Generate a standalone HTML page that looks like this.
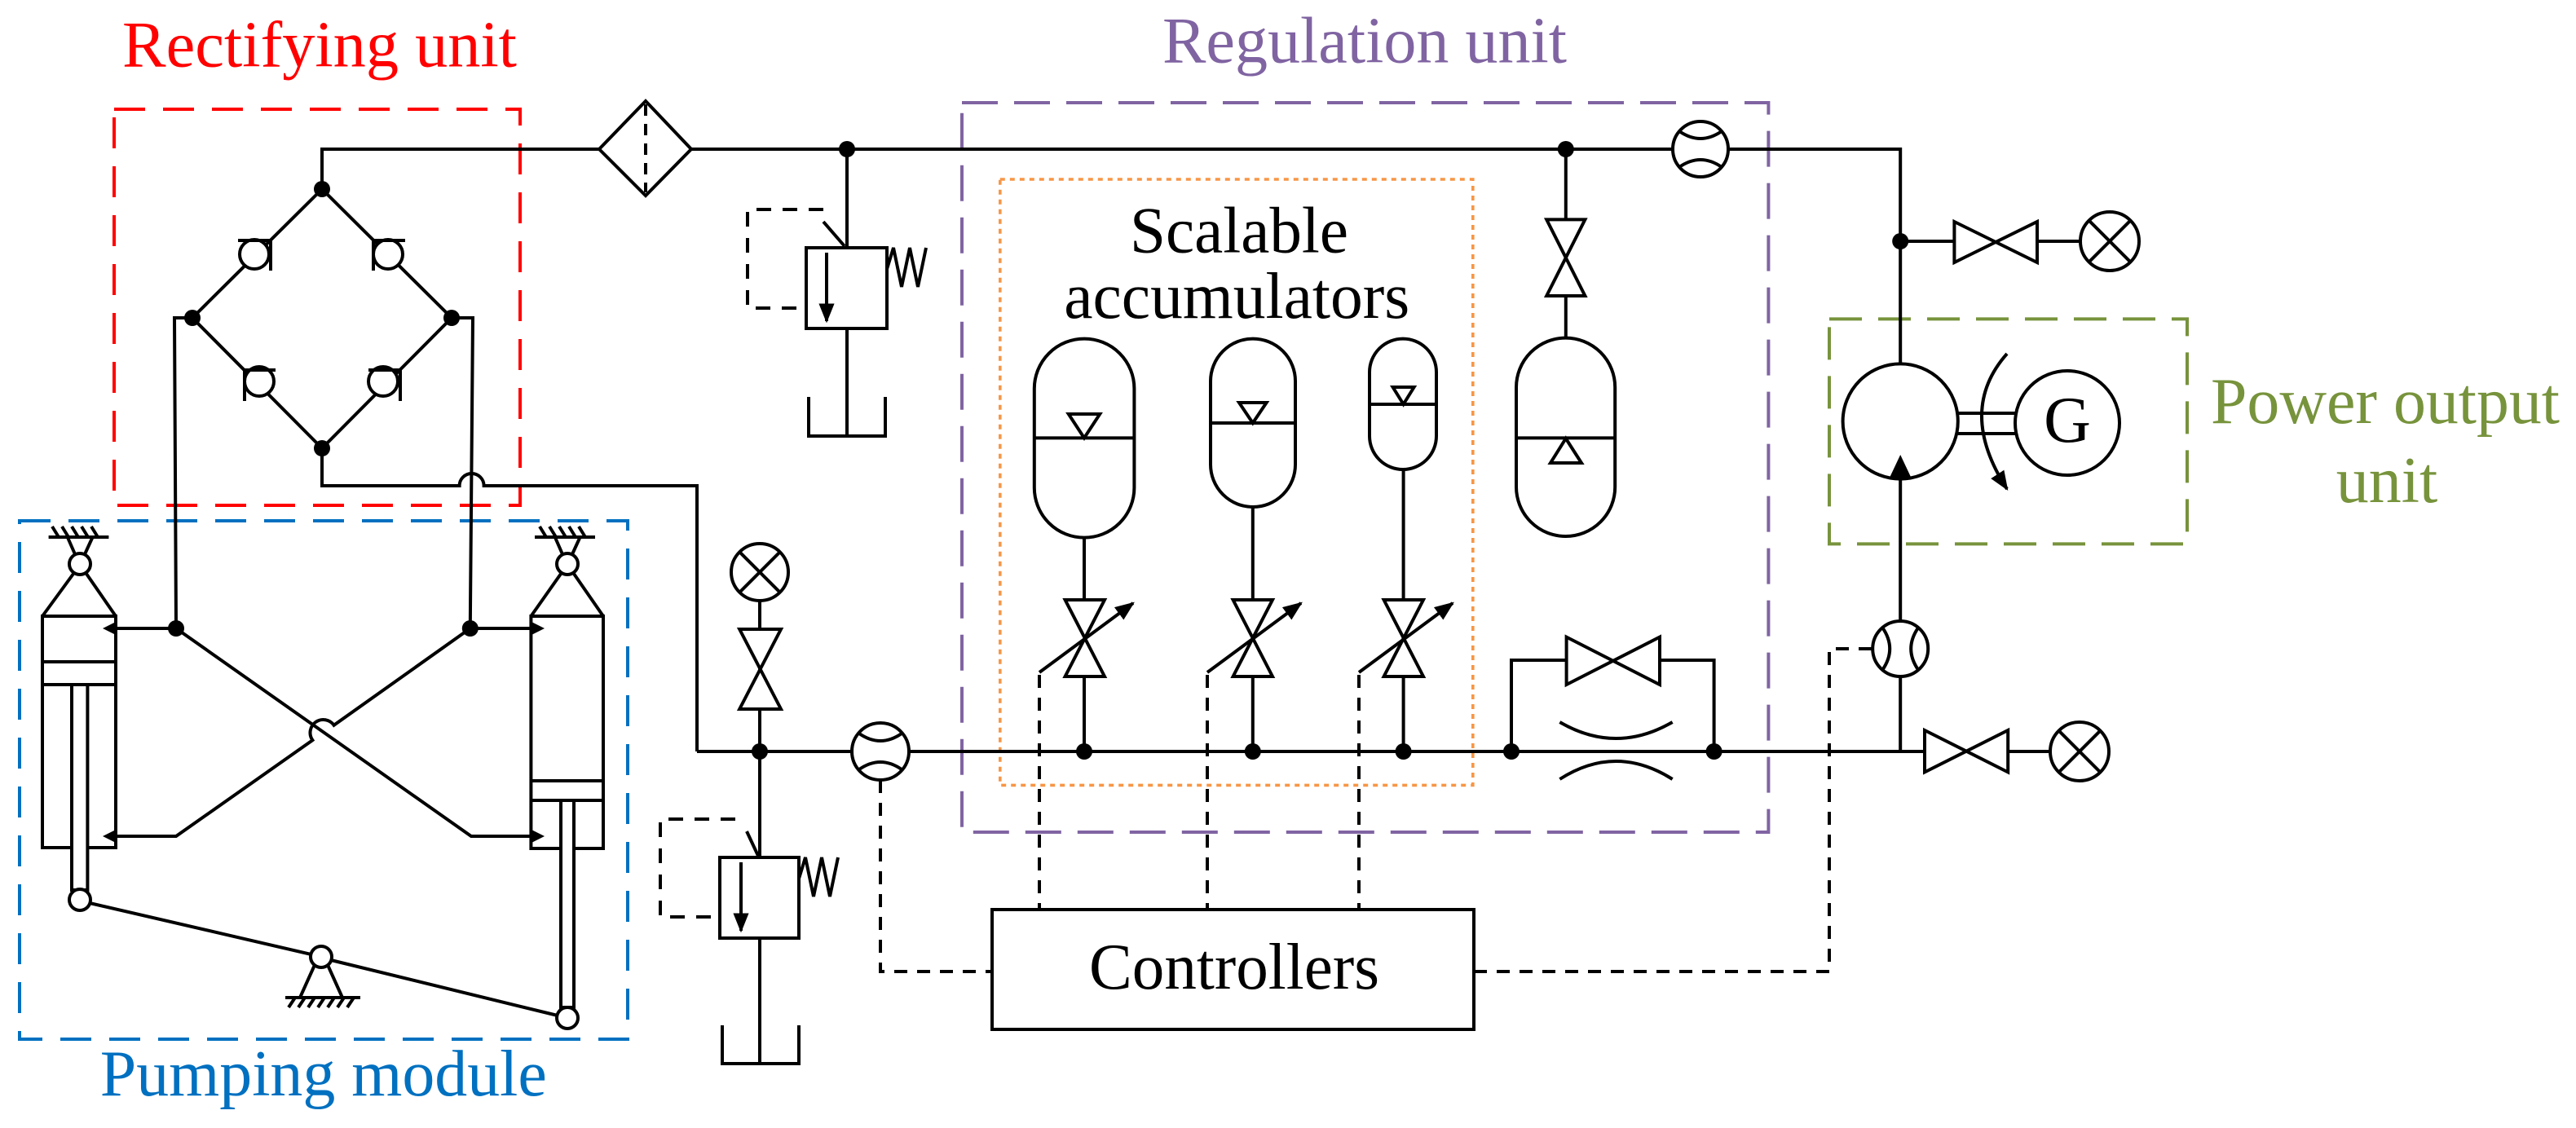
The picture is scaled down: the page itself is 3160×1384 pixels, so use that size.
<!DOCTYPE html>
<html><head><meta charset="utf-8"><style>
html,body{margin:0;padding:0;background:#fff;}
svg{display:block;}
text{font-family:"Liberation Serif",serif;}
</style></head><body>
<svg width="3160" height="1384" viewBox="0 0 1580 692" xmlns="http://www.w3.org/2000/svg">
<defs>
<marker id="ah2" viewBox="0 0 10 10" refX="9" refY="5" markerWidth="12" markerHeight="12" orient="auto" markerUnits="userSpaceOnUse">
<path d="M0,1 L10,5 L0,9 Z" fill="#000"/></marker>
</defs>
<rect width="1580" height="692" fill="#fff"/>

<g fill="none" stroke-width="2">
<rect x="70" y="67" width="249" height="243" stroke="#ff0000" stroke-dasharray="19,11"/>
<rect x="12" y="319.5" width="373" height="318" stroke="#0070c0" stroke-dasharray="19,11"/>
<rect x="590" y="63" width="494.7" height="447.5" stroke="#8064a2" stroke-dasharray="22,10"/>
<rect x="613.4" y="110" width="290" height="371.7" stroke="#f79646" stroke-dasharray="3,3" stroke-width="1.8"/>
<rect x="1122" y="195.7" width="219.5" height="138" stroke="#77933c" stroke-dasharray="20,10"/>
</g>

<text x="75" y="40.8" font-size="40" fill="#ff0000" textLength="242" lengthAdjust="spacingAndGlyphs">Rectifying unit</text>
<text x="713" y="38.3" font-size="40" fill="#8064a2" textLength="248" lengthAdjust="spacingAndGlyphs">Regulation unit</text>
<text x="61.4" y="672" font-size="40" fill="#0070c0" textLength="274" lengthAdjust="spacingAndGlyphs">Pumping module</text>
<text x="1356" y="259.5" font-size="40" fill="#77933c" textLength="214" lengthAdjust="spacingAndGlyphs">Power output</text>
<text x="1464" y="308" font-size="40" fill="#77933c" text-anchor="middle">unit</text>
<text x="693" y="154.7" font-size="40" fill="#000" textLength="134" lengthAdjust="spacingAndGlyphs">Scalable</text>
<text x="652.6" y="195" font-size="40" fill="#000" textLength="212" lengthAdjust="spacingAndGlyphs">accumulators</text>

<g stroke="#000" stroke-width="2" fill="none" stroke-linejoin="miter">
<path d="M197.5,116 V91.5 H367.5 M424,91.5 H1165.6 V223"/>
<path d="M367.5,91.5 L396,62 L424,91.5 L396,120 Z" fill="#fff"/>
<path d="M396,64 V118" stroke-dasharray="7,5"/>
<path d="M197.5,116 L118,195 L197.5,275 L277,195 Z"/>
<path d="M118,195 H107 L108,385.5"/>
<path d="M277,195 H290 L288.4,385.5"/>
<path d="M197.5,275 V298 H281.8 A7.5,7.5 0 0 1 296.8,298 H427.5 V461"/>
<g fill="#fff">
<circle cx="156" cy="156" r="9"/><circle cx="238" cy="156" r="9"/>
<circle cx="159" cy="234" r="9"/><circle cx="235" cy="234" r="9"/>
</g>
<path d="M146,147.5 H166 V166 M229,166 V147.5 H248.5 M150,246 V227 H169 M226,227 H245.5 V246"/>

<rect x="26" y="378" width="45" height="142" fill="#fff"/>
<path d="M26,406 H71 M26,420 H71"/>
<rect x="44" y="420" width="9.7" height="126" fill="#fff"/>
<circle cx="49" cy="552" r="6.5" fill="#fff"/>
<rect x="325.7" y="378" width="44.3" height="142.5" fill="#fff"/>
<path d="M325.7,479 H370 M325.7,491 H370"/>
<rect x="344" y="491" width="8" height="127" fill="#fff"/>
<circle cx="348" cy="624.5" r="6.5" fill="#fff"/>
<path d="M26,378 L45,352 M71,378 L53,352 M41.4,329.5 L46,340 M56.8,329.5 L52,340 M29.8,329.5 H66.7"/>
<path d="M36,329.5 L32,323 M42,329.5 L38,323 M48,329.5 L44,323 M54,329.5 L50,323 M60,329.5 L56,323"/>
<circle cx="49" cy="346" r="6.5" fill="#fff"/>
<path d="M325.7,378 L344,352 M370,378 L352,352 M340.4,329.5 L345,340 M355.8,329.5 L351,340 M328,329.5 H365"/>
<path d="M335,329.5 L331,323 M341,329.5 L337,323 M347,329.5 L343,323 M353,329.5 L349,323 M359,329.5 L355,323"/>
<circle cx="348" cy="346" r="6.5" fill="#fff"/>
<path d="M55,554 L191,585.5 M203,589 L342,623"/>
<path d="M193,592 L184,612 M201,592 L210,612 M175,612 H221"/>
<path d="M181,612 L177,618 M187,612 L183,618 M193,612 L189,618 M199,612 L195,618 M205,612 L201,618 M211,612 L207,618 M217,612 L213,618"/>
<circle cx="197" cy="587" r="6.5" fill="#fff"/>
<path d="M71,385.5 H108 L289,513 H325.7"/>
<path d="M325.7,385.5 H288.4 L204.8,444.9 A8,8 0 0 0 191.7,454.1 L108,513 H71"/>
</g>
<g fill="#000">
<path d="M63,385.5 L71,381.5 L71,389.5 Z"/><path d="M63,513 L71,509 L71,517 Z"/>
<path d="M334,385.5 L326,381.5 L326,389.5 Z"/><path d="M334,513 L326,509 L326,517 Z"/>
</g>

<g stroke="#000" stroke-width="2" fill="none">
<path d="M519.5,91.5 V152 M519.5,201.5 V267.5 M496,243.5 V267.5 H543 V243.5"/>
<rect x="494.5" y="152" width="49.5" height="49.5" fill="#fff"/>
<path d="M507,155 V197" marker-end="url(#ah2)"/>
<path d="M544,165 L548,152 L553,176 L558,152 L563,176 L568,152"/>
<path d="M505,128.5 H458.5 V189 H494.5" stroke-dasharray="9,7"/>
<path d="M505,136 L518,151"/>
<path d="M466,368.5 V526 M466,575.5 V652.5 M443,629 V652.5 H490 V629"/>
<circle cx="466" cy="351" r="17.5" fill="#fff"/>
<path d="M453.6,338.6 L478.4,363.4 M478.4,338.6 L453.6,363.4"/>
<path d="M453.6,386 H479 L453.6,435 H479 Z" fill="#fff"/>
<rect x="441.5" y="526" width="48.5" height="49.5" fill="#fff"/>
<path d="M454.5,529 V571" marker-end="url(#ah2)"/>
<path d="M490,539 L494,526 L499,550 L504,526 L509,550 L514,526"/>
<path d="M451,502.5 H405 V562.5 H441.5" stroke-dasharray="9,7"/>
<path d="M458,510 L465,525"/>
<path d="M427.5,461 H1180.5 M1231.6,461 H1257.5"/>
<circle cx="540" cy="461" r="17.5" fill="#fff"/>
<path d="M527,450 Q540,459 553,450 M527,472 Q540,463 553,472"/>
<circle cx="1043" cy="91.5" r="17" fill="#fff"/>
<path d="M1030,80.5 Q1043,89.5 1056,80.5 M1030,102.5 Q1043,93.5 1056,102.5"/>

<rect x="634.4" y="207.8" width="61.3" height="122" rx="30.6" ry="30.6" fill="#fff"/>
<path d="M634.4,268.7 H695.7 M655.4,254 H674.6 L665,268.7 Z M665,329.8 V368 M665,415 V461"/>
<rect x="742.5" y="207.8" width="52" height="103.2" rx="26" ry="26" fill="#fff"/>
<path d="M742.5,259.5 H794.5 M760,247 H776.8 L768.4,259.5 Z M768.4,311 V368 M768.4,415 V461"/>
<rect x="840" y="207.8" width="41" height="80.2" rx="20.5" ry="20.5" fill="#fff"/>
<path d="M840,248 H881 M854.3,237.5 H867.3 L860.8,248 Z M860.8,288 V368 M860.8,415 V461"/>
<rect x="930" y="207.3" width="60.6" height="121.7" rx="30.3" ry="30.3" fill="#fff"/>
<path d="M930,268.7 H990.6 M951,284 H970 L960.4,269 Z M960.4,91.5 V134.7 M960.4,181.5 V207.3"/>
<path d="M948.6,134.7 H972.2 L948.6,181.5 H972.2 Z" fill="#fff"/>
<path d="M653.3,368 H677.5 L653.3,415 H677.5 Z" fill="#fff"/>
<path d="M756.3,368 H780.5 L756.3,415 H780.5 Z" fill="#fff"/>
<path d="M848.8,368 H873 L848.8,415 H873 Z" fill="#fff"/>
<path d="M637.5,412.5 L695,370" marker-end="url(#ah2)"/>
<path d="M740.5,412.5 L798,370" marker-end="url(#ah2)"/>
<path d="M833.5,412.5 L891,370" marker-end="url(#ah2)"/>
<path d="M927,461 V405 H960.8 M1018,405 H1051.3 V461"/>
<path d="M960.8,390.8 L1018,420 V390.8 L960.8,420 Z" fill="#fff"/>
<path d="M956.7,443 Q991,463 1025.8,443 M956.7,478 Q991,456 1025.8,478"/>

<path d="M1165.6,148 H1198.7 M1249.5,148 H1276"/>
<path d="M1198.7,136 L1249.5,161 V136 L1198.7,161 Z" fill="#fff"/>
<circle cx="1294" cy="148" r="18" fill="#fff"/>
<path d="M1281.3,135.3 L1306.7,160.7 M1306.7,135.3 L1281.3,160.7"/>
<circle cx="1165.6" cy="258.5" r="35.3" fill="#fff"/>
<path d="M1165.6,293.8 V381 M1165.6,415 V461"/>
<path d="M1200.5,253.5 H1236 M1200.5,266 H1236"/>
<circle cx="1268" cy="259.5" r="32" fill="#fff"/>
<path d="M1231,217 Q1200,252 1231,300" marker-end="url(#ah2)"/>
<circle cx="1165.6" cy="398" r="17" fill="#fff"/>
<path d="M1154.6,385 Q1163.6,398 1154.6,411 M1176.6,385 Q1167.6,398 1176.6,411"/>
<path d="M1180.5,448 L1231.6,473.7 V448 L1180.5,473.7 Z" fill="#fff"/>
<circle cx="1275.5" cy="461" r="18" fill="#fff"/>
<path d="M1262.8,448.3 L1288.2,473.7 M1288.2,448.3 L1262.8,473.7"/>

<rect x="608.5" y="558" width="295.5" height="73.5" fill="#fff"/>
<g stroke-dasharray="8,6">
<path d="M637.5,414 V558 M740.5,414 V558 M833.5,414 V558"/>
<path d="M540,478.5 V596 H608.5"/>
<path d="M904,596 H1122 V398 H1148.6"/>
</g>
</g>
<path d="M1159,293 L1165.6,279 L1172.2,293 Z" fill="#000"/>
<text x="1268" y="271" font-size="40" text-anchor="middle" fill="#000">G</text>
<text x="757" y="606.5" font-size="40" text-anchor="middle" fill="#000" textLength="178" lengthAdjust="spacingAndGlyphs">Controllers</text>

<g fill="#000">
<circle cx="197.5" cy="116" r="5"/><circle cx="118" cy="195" r="5"/><circle cx="277" cy="195" r="5"/><circle cx="197.5" cy="275" r="5"/>
<circle cx="108" cy="385.5" r="5"/><circle cx="288.4" cy="385.5" r="5"/>
<circle cx="519.5" cy="91.5" r="5"/><circle cx="960.4" cy="91.5" r="5"/><circle cx="1165.6" cy="148" r="5"/>
<circle cx="466" cy="461" r="5"/><circle cx="665" cy="461" r="5"/><circle cx="768.4" cy="461" r="5"/><circle cx="860.8" cy="461" r="5"/>
<circle cx="927" cy="461" r="5"/><circle cx="1051.3" cy="461" r="5"/>
</g>
</svg>
</body></html>
